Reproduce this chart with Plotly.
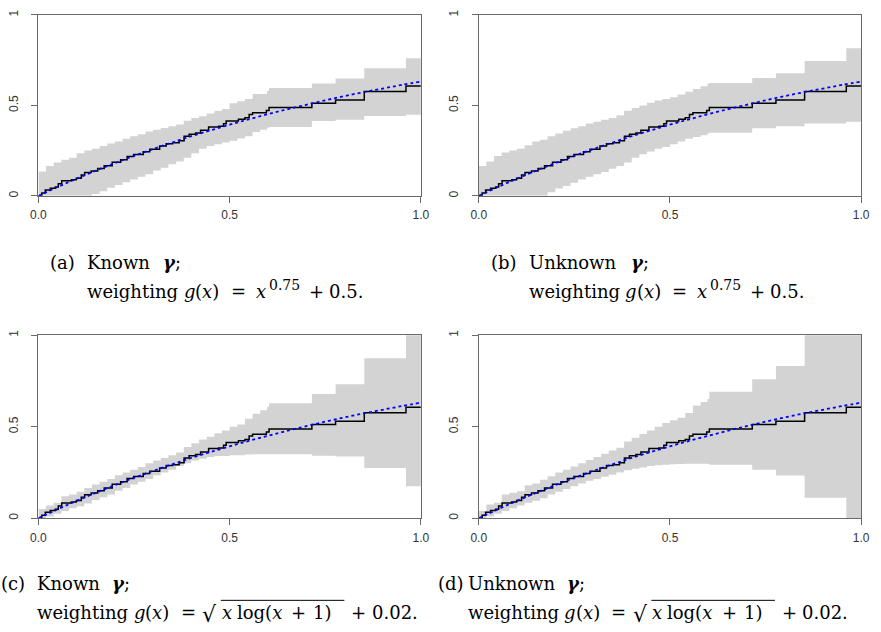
import plotly.graph_objects as go

W, H = 881, 632

# ---- data ----
# step estimate (same in all four panels)
est_x = [0, .009, .018, .031, .044, .052, .061, .086, .099, .112, .121, .138, .155, .172, .193,
         .215, .232, .249, .274, .291, .317, .334, .351, .368, .381, .394, .411, .424, .445,
         .471, .484, .491, .523, .540, .551, .560, .596, .603, .715, .777, .852, .961, 1.0]
est_y = [0, .016, .033, .042, .049, .067, .084, .089, .097, .115, .129, .138, .151, .166, .186,
         .199, .217, .228, .244, .257, .275, .288, .293, .304, .330, .341, .348, .362, .381,
         .384, .399, .414, .424, .431, .450, .459, .472, .488, .512, .530, .576, .607, .607]

# true curve (blue dotted)
true_x = [0, .05, .10, .15, .20, .25, .30, .35, .40, .45, .50, .55, .60, .65, .70, .75, .80,
          .85, .90, .95, 1.0]
true_y = [0, .049, .095, .139, .181, .221, .259, .295, .330, .362, .393, .423, .451, .478,
          .503, .528, .551, .573, .593, .613, .632]

# band breakpoints (shared)
band_x = [0, .02, .04, .06, .08, .10, .12, .14, .16, .18, .20, .22, .24, .26, .28, .30, .32,
          .34, .36, .38, .40, .42, .44, .46, .48, .50, .52, .54, .56, .58, .598, .603, .715,
          .777, .852, .961, 1.0]

a_up = [.135, .165, .185, .20, .21, .235, .25, .26, .275, .29, .30, .315, .33, .34, .355, .365,
        .375, .385, .395, .415, .43, .44, .455, .47, .48, .512, .523, .535, .563, .563, .581,
        .596, .621, .649, .705, .760, .760]
a_lo = [0, 0, 0, 0, 0, 0, 0, .01, .025, .045, .06, .075, .09, .105, .12, .14, .155, .175, .19,
        .21, .235, .26, .275, .285, .295, .305, .317, .33, .353, .365, .377, .38, .413, .421,
        .441, .448, .448]

b_up = [.165, .19, .22, .24, .25, .26, .28, .30, .31, .33, .345, .36, .373, .385, .40, .41, .42,
        .43, .445, .47, .485, .50, .515, .527, .535, .545, .56, .575, .59, .605, .62, .624,
        .651, .678, .745, .815, .815]
b_lo = [0, 0, 0, 0, 0, 0, 0, 0, 0, .02, .04, .055, .073, .09, .105, .12, .132, .15, .165, .185,
        .21, .23, .245, .26, .27, .285, .30, .315, .325, .335, .345, .349, .373, .385, .40,
        .409, .409]

c_up = [.05, .07, .085, .12, .13, .145, .165, .185, .20, .215, .235, .25, .265, .28, .30, .315,
        .33, .345, .36, .39, .41, .43, .445, .465, .48, .50, .512, .544, .571, .59, .61, .629,
        .679, .733, .874, 1.05, 1.05]
c_lo = [0, .01, .025, .04, .055, .065, .08, .10, .115, .13, .15, .165, .185, .20, .215, .235,
        .25, .265, .285, .30, .315, .325, .335, .34, .34, .345, .345, .348, .35, .35, .35, .35,
        .342, .338, .274, .175, .175]

d_up = [.04, .075, .085, .13, .14, .148, .18, .19, .21, .23, .25, .265, .283, .30, .318, .335,
        .352, .37, .385, .42, .44, .46, .48, .50, .52, .535, .55, .575, .616, .635, .652, .692,
        .760, .832, 1.05, 1.05, 1.05]
d_lo = [0, .01, .025, .04, .055, .07, .085, .095, .11, .13, .145, .16, .175, .19, .205, .215,
        .227, .238, .25, .262, .27, .278, .285, .29, .292, .295, .297, .298, .298, .298, .297,
        .292, .265, .234, .112, 0, 0]

x_ticks = [0, 0.5, 1.0]
x_ticklabels = ["0.0", "0.5", "1.0"]
y_ticks = [0, 0.5, 1.0]
y_ticklabels = ["0", "0.5", "1"]

# caption pieces: (text, x offset from caption text start, dy, font size)
FS = 18
gx_pieces = [("weighting", 0, 0, FS), ("<i>g</i>", 98, 0, FS), ("(<i>x</i>)", 110, 0, FS),
             ("=", 146, 0, FS)]
pow_line = gx_pieces + [("<i>x</i>", 172, 0, FS), ("0.75", 185, -7, 14), ("+", 226, 0, FS),
                        ("0.5.", 246, 0, FS)]
sqrt_line = gx_pieces + [("√", 168, 2, 22), ("<i>x</i>", 188, 0, FS),
                         ("log(<i>x</i>", 203, 0, FS), ("+", 259, 0, FS),
                         ("1)", 281, 0, FS), ("+", 320, 0, FS), ("0.02.", 341, 0, FS)]

panels = [
    dict(up=a_up, lo=a_lo, label="(a)", word="Known", gx=77, l2=pow_line, ov=None),
    dict(up=b_up, lo=b_lo, label="(b)", word="Unknown", gx=104, l2=pow_line, ov=None),
    dict(up=c_up, lo=c_lo, label="(c)", word="Known", gx=76, l2=sqrt_line, ov=(182, 308)),
    dict(up=d_up, lo=d_lo, label="(d)", word="Unknown", gx=101, l2=sqrt_line, ov=(182, 308)),
]

# ---- layout geometry (pixels) ----
boxes = [  # (left, right, top, bottom)
    (31, 421, 10, 193),
    (480, 870, 10, 193),
    (31, 421, 334, 519),
    (480, 870, 334, 519),
]
cap_pos = [  # (label_x, text_x, line1_y, line2_y)
    (48, 86, 260, 290),
    (497, 536, 260, 290),
    (-2, 35, 585, 614),
    (443, 474, 585, 614),
]

fig = go.Figure()
layout = dict(width=W, height=H, margin=dict(l=0, r=0, t=0, b=0),
              paper_bgcolor="white", plot_bgcolor="white", showlegend=False,
              annotations=[], shapes=[])

AX = "#6a6a6a"
TFONT = dict(family="Liberation Sans, Arial, sans-serif", size=12, color="#333333")
SERIF = "DejaVu Serif, serif"


def add_text(txt, px, py, size):
    layout["annotations"].append(dict(
        x=(px - 7) / W, y=1 - py / H, xref="paper", yref="paper", xanchor="left",
        yanchor="middle", text=txt, showarrow=False,
        font=dict(family=SERIF, size=size, color="black")))


for i, p in enumerate(panels):
    k = "" if i == 0 else str(i + 1)
    xa, ya = "x" + k, "y" + k
    fig.add_trace(go.Scatter(x=band_x, y=p["lo"], mode="lines", line=dict(width=0, shape="hv"),
                             xaxis=xa, yaxis=ya, hoverinfo="skip"))
    fig.add_trace(go.Scatter(x=band_x, y=p["up"], mode="lines", line=dict(width=0, shape="hv"),
                             fill="tonexty", fillcolor="#D3D3D3",
                             xaxis=xa, yaxis=ya, hoverinfo="skip"))
    fig.add_trace(go.Scatter(x=est_x, y=est_y, mode="lines",
                             line=dict(color="black", width=1.5, shape="hv"),
                             xaxis=xa, yaxis=ya))
    fig.add_trace(go.Scatter(x=true_x, y=true_y, mode="lines",
                             line=dict(color="blue", width=1.8, dash="dot", shape="spline"),
                             xaxis=xa, yaxis=ya))
    L, R, T, B = boxes[i]
    layout["xaxis" + k] = dict(domain=[L / W, R / W], range=[0, 1], anchor=ya,
                               tickvals=x_ticks, ticktext=x_ticklabels, ticks="outside",
                               ticklen=6, tickcolor=AX, showline=True, linecolor=AX,
                               linewidth=1, mirror=True, showgrid=False, zeroline=False,
                               tickfont=TFONT, ticklabelstandoff=2, fixedrange=True)
    layout["yaxis" + k] = dict(domain=[1 - B / H, 1 - T / H], range=[0, 1], anchor=xa,
                               tickvals=y_ticks, ticktext=y_ticklabels, ticks="outside",
                               ticklen=6, tickcolor=AX, showline=True, linecolor=AX,
                               linewidth=1, mirror=True, showgrid=False, zeroline=False,
                               tickfont=TFONT, tickangle=-90, ticklabelstandoff=9,
                               fixedrange=True)
    lx, tx, y1, y2 = cap_pos[i]
    add_text(p["label"], lx, y1, FS)
    add_text(p["word"], tx, y1, FS)
    add_text("<b><i>γ</i></b>;", tx + p["gx"], y1, FS)
    for txt, off, dy, sz in p["l2"]:
        add_text(txt, tx + off, y2 + dy, sz)
    if p["ov"] is not None:
        o0, o1 = p["ov"]
        layout["shapes"].append(dict(type="line", xref="paper", yref="paper",
                                     x0=(tx + o0) / W, x1=(tx + o1) / W,
                                     y0=1 - (y2 - 12) / H, y1=1 - (y2 - 12) / H,
                                     line=dict(color="black", width=1)))

fig.update_layout(**layout)
fig.write_html("out.html", config={"displayModeBar": False},
               post_script="document.body.style.margin='0px';")
